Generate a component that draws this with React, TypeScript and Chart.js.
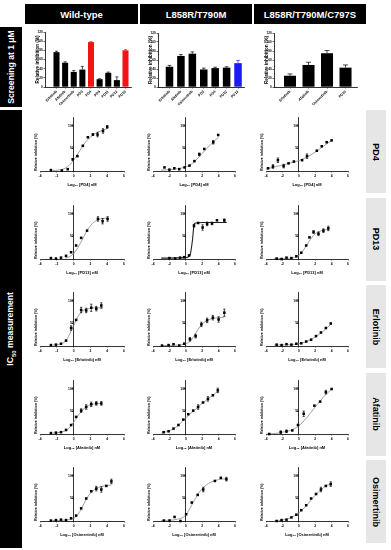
import React, { useEffect, useRef } from "react";
import { Chart, registerables } from "chart.js";

Chart.register(...registerables);

const FAMILY = "'Liberation Sans', Arial, Helvetica, sans-serif";
Chart.defaults.font.family = FAMILY;

// ---------- Screening at 1 µM (bar charts) ----------
const wtLabels = ["Erlotinib", "Afatinib", "Osimertinib", "PD3", "PD4", "PD6", "PD11", "PD12", "PD13"];
const wtValues = [76, 53, 33, 38, 98, 17, 31, 15, 80];
const wtErrors = [2, 2, 3, 7, 1, 1, 1.5, 7, 1.5];
const wtRed = ["PD4", "PD13"];

const dmLabels = ["Erlotinib", "Afatinib", "Osimertinib", "PD3", "PD4", "PD12", "PD13"];
const dmValues = [45, 69, 74, 39, 42, 43, 53];
const dmErrors = [3, 3, 4, 3, 2, 2, 6];
const dmBlue = ["PD13"];

const tmLabels = ["Erlotinib", "Afatinib", "Osimertinib", "PD13"];
const tmValues = [25, 49, 75, 43];
const tmErrors = [4, 6, 6, 6];

// ---------- IC50 measurement: points [log10 nM, % inhibition, error] and fitted curves ----------
const pd4WtPts = [[-2.7, 2], [-1.4, 1], [-0.7, 4], [-0.1, 26, 2], [0.45, 33], [1.1, 56], [1.7, 75], [2.3, 81, 2], [2.85, 81, 5], [3.5, 89, 5], [4.0, 98, 3]];
const pd4WtFit = [[-2.5, 1], [-1.5, 3], [-1, 6], [-0.5, 13], [0, 24], [0.5, 38], [1, 53], [1.5, 66], [2, 75], [2.5, 82], [3, 87], [3.5, 91], [4, 94]];
const pd4DmPts = [[-2.6, 8], [-2.0, 3], [-1.4, 6], [-0.8, 4], [-0.15, 8], [0.45, 12], [1.05, 22], [1.65, 37, 3], [2.25, 49], [3.35, 64, 4], [3.95, 80]];
const pd4DmFit = [[-3, 2], [-2, 3], [-1, 5], [0, 9], [0.5, 13], [1, 20], [1.5, 29], [2, 39], [2.5, 49], [3, 58], [3.5, 67], [4, 75]];
const pd4TmPts = [[-3.75, 6], [-3.15, 10, 4], [-2.55, 24, 5], [-1.85, 11, 4], [-1.25, 17], [-0.6, 21], [0.4, 24], [1.0, 33, 5], [2.2, 45], [2.8, 55], [3.4, 64], [4.0, 68]];
const pd4TmFit = [[-4, 4], [-3, 9], [-2, 13], [-1, 18], [0, 23], [1, 31], [2, 42], [3, 55], [4, 68]];

const pd13WtPts = [[-2.7, 2], [-2.1, 1], [-1.5, 3], [-0.9, 7], [-0.3, 15], [0.3, 30], [0.9, 47], [1.6, 63], [2.9, 89, 5], [3.45, 84, 6], [4.05, 89, 5]];
const pd13WtFit = [[-1, 2], [-0.5, 5], [0, 12], [0.5, 25], [1, 42], [1.5, 60], [2, 74], [2.5, 83], [3, 88], [3.5, 90], [4, 91]];
const pd13DmPts = [[-2.0, 2], [-1.3, 1], [-0.7, 3], [-0.2, 4], [0.4, 8], [1.0, 74, 3], [1.5, 80], [2.05, 70, 6], [2.6, 78, 4], [3.2, 79, 3], [3.8, 86], [4.7, 86, 3]];
const pd13DmFit = [[-3, 2], [0, 3], [0.5, 8], [0.8, 40], [1.0, 75], [1.2, 80], [2, 81], [3, 81], [4, 81], [5, 81]];
const pd13TmPts = [[-2.7, 1], [-2.1, 0], [-1.5, 3], [-0.9, 2], [-0.3, 6], [0.3, 14], [0.9, 30], [1.3, 48], [1.8, 60, 3], [2.4, 56, 4], [3.0, 63, 4], [3.6, 68, 5]];
const pd13TmFit = [[-3, 1], [-1, 2], [0, 8], [0.5, 18], [1, 32], [1.5, 46], [2, 56], [2.5, 61], [3, 64], [3.6, 66]];

const erlWtPts = [[-2.7, 2], [-2.1, 3], [-1.5, 5], [-0.9, 12], [-0.3, 40, 5], [0.3, 58], [0.9, 80, 6], [1.5, 79, 5], [2.1, 85, 8], [2.7, 83, 5], [3.3, 90, 6]];
const erlWtFit = [[-2.5, 2], [-1.5, 5], [-1, 10], [-0.5, 25], [0, 45], [0.5, 65], [1, 77], [1.5, 82], [2, 84], [3, 85], [3.5, 85]];
const erlDmPts = [[-2.9, 1], [-2.1, 2], [-1.5, 4], [-0.8, 1], [-0.2, 5], [0.5, 15, 4], [1.2, 22, 4], [1.9, 48, 5], [2.6, 57, 5], [3.3, 63, 5], [4.0, 59, 6], [4.7, 74, 8]];
const erlDmFit = [[-3, 1], [-1, 2], [0, 5], [0.5, 10], [1, 22], [1.5, 37], [2, 49], [2.5, 56], [3, 60], [4, 63], [4.7, 64]];
const erlTmPts = [[-2.7, 3], [-2.1, 2], [-1.5, 4], [-0.9, 3], [-0.3, 5], [0.3, 6], [0.9, 10], [1.5, 14], [2.1, 22], [2.7, 30], [3.3, 40], [3.9, 50]];
const erlTmFit = [[-3, 2], [-1, 3], [0, 5], [1, 10], [2, 20], [3, 33], [4, 50]];

const afaWtPts = [[-2.7, 2], [-2.1, 3], [-1.5, 4], [-0.9, 9], [-0.3, 20], [0.3, 38], [0.9, 52, 4], [1.5, 60, 5], [2.1, 66, 5], [2.7, 68, 4], [3.3, 68, 4]];
const afaWtFit = [[-2.5, 2], [-1.5, 4], [-1, 7], [-0.5, 14], [0, 26], [0.5, 40], [1, 52], [1.5, 60], [2, 65], [2.5, 67], [3.3, 68]];
const afaDmPts = [[-2.7, 4], [-2.1, 6], [-1.5, 12], [-0.9, 20], [-0.3, 32], [0.3, 44], [0.9, 52], [1.5, 60, 5], [2.1, 70], [2.7, 78, 5], [3.3, 86], [3.9, 97, 5]];
const afaDmFit = [[-3, 2], [-2, 7], [-1, 18], [0, 36], [1, 52], [2, 68], [3, 82], [4, 96]];
const afaTmPts = [[-3.6, 0], [-2.2, 4, 3], [-1.5, 6, 3], [-0.8, 8], [-0.1, 20], [0.6, 45, 6], [1.9, 63], [2.6, 72], [3.3, 93, 4], [4.0, 100]];
const afaTmFit = [[-4, 0], [-3, 1], [-2, 4], [-1, 8], [0, 18], [1, 37], [2, 60], [3, 82], [4, 100]];

const osiWtPts = [[-2.7, 1], [-2.1, 2], [-1.5, 3], [-0.9, 2], [-0.3, 6], [0.3, 12], [0.9, 28], [1.5, 50], [2.1, 66], [2.7, 72, 5], [3.3, 70, 6], [3.9, 78], [4.5, 88, 5]];
const osiWtFit = [[-2.5, 1], [-1, 2], [0, 6], [0.5, 14], [1, 30], [1.5, 48], [2, 62], [2.5, 70], [3, 75], [4, 79], [4.5, 80]];
const osiDmPts = [[-2.67, 1], [-1.98, 1], [-1.37, 9], [-0.65, 0], [0.04, 15], [0.73, 41], [1.45, 58], [2.13, 70, 5], [3.55, 89], [4.27, 96], [4.95, 93, 4]];
const osiDmFit = [[-3, 1], [-1, 4], [0, 13], [0.5, 28], [1, 45], [1.5, 60], [2, 72], [2.5, 80], [3, 86], [4, 92], [5, 94]];
const osiTmPts = [[-2.7, 0], [-2.1, 2], [-1.5, 3], [-0.9, 8], [-0.3, 14], [0.3, 24], [0.9, 35], [1.5, 50], [2.1, 60], [2.7, 70, 5], [3.3, 78], [3.9, 82, 5]];
const osiTmFit = [[-3, 0], [-2, 2], [-1, 7], [0, 18], [1, 36], [2, 57], [3, 74], [4, 84]];

const strains = ["Wild-type", "L858R/T790M", "L858R/T790M/C797S"];
const drugs = ["PD4", "PD13", "Erlotinib", "Afatinib", "Osimertinib"];
const icPoints = [
  [pd4WtPts, pd4DmPts, pd4TmPts],
  [pd13WtPts, pd13DmPts, pd13TmPts],
  [erlWtPts, erlDmPts, erlTmPts],
  [afaWtPts, afaDmPts, afaTmPts],
  [osiWtPts, osiDmPts, osiTmPts],
];
const icFits = [
  [pd4WtFit, pd4DmFit, pd4TmFit],
  [pd13WtFit, pd13DmFit, pd13TmFit],
  [erlWtFit, erlDmFit, erlTmFit],
  [afaWtFit, afaDmFit, afaTmFit],
  [osiWtFit, osiDmFit, osiTmFit],
];

// ---------- helpers ----------
const RED = "#f01414";
const BLUE = "#1c1cf0";
const f = (size: number) => ({ family: FAMILY, size, weight: "bold" as const });

const errorBarPlugin = {
  id: "errorBars",
  afterDatasetsDraw(chart: any) {
    const ctx = chart.ctx;
    chart.data.datasets.forEach((ds: any, di: number) => {
      if (!ds.errors) return;
      const meta = chart.getDatasetMeta(di);
      const ys = chart.scales[meta.yAxisID];
      ctx.save();
      ctx.lineWidth = 0.7;
      meta.data.forEach((el: any, i: number) => {
        const e = ds.errors[i];
        if (!e) return;
        const raw = ds.data[i];
        const v = typeof raw === "number" ? raw : raw.y;
        const x = el.x;
        const top = ys.getPixelForValue(v + e);
        const bot = ds.errorMode === "both" ? ys.getPixelForValue(v - e) : ys.getPixelForValue(v);
        const c = ds.capHalf || 1.5;
        ctx.strokeStyle = Array.isArray(ds.errorColors) ? ds.errorColors[i] : ds.errorColors || "#000";
        ctx.beginPath();
        ctx.moveTo(x, top);
        ctx.lineTo(x, bot);
        ctx.moveTo(x - c, top);
        ctx.lineTo(x + c, top);
        if (ds.errorMode === "both") {
          ctx.moveTo(x - c, bot);
          ctx.lineTo(x + c, bot);
        }
        ctx.stroke();
      });
      ctx.restore();
    });
  },
};

function barConfig(labels: string[], values: number[], errors: number[], colors: string[], xMin: number, xMax: number, barPct: number, cap: number) {
  return {
    type: "bar",
    data: {
      datasets: [
        {
          data: values.map((v, i) => ({ x: i, y: v })),
          backgroundColor: colors,
          borderWidth: 0,
          barPercentage: barPct,
          categoryPercentage: 1,
          errors,
          errorColors: colors,
          errorMode: "up",
          capHalf: cap,
        },
      ],
    },
    options: {
      animation: false,
      responsive: false,
      devicePixelRatio: 1,
      layout: { padding: { left: 2, right: 3, top: 4, bottom: 1 } },
      plugins: { legend: { display: false }, tooltip: { enabled: false } },
      scales: {
        x: {
          type: "linear",
          min: xMin,
          max: xMax,
          offset: false,
          ticks: {
            stepSize: 1,
            includeBounds: false,
            autoSkip: false,
            minRotation: 45,
            maxRotation: 45,
            font: f(3.6),
            color: "#000",
            padding: 1,
            callback: (v: number) => (labels[v] === undefined ? null : labels[v]),
          },
          grid: { drawOnChartArea: false, tickLength: 1.5, color: "#000", lineWidth: 0.6, offset: false },
          border: { color: "#000", width: 0.8 },
          afterFit: (s: any) => {
            s.height = 20;
          },
        },
        y: {
          min: 0,
          max: 120,
          ticks: { stepSize: 20, font: f(3.1), color: "#000", padding: 0.8 },
          grid: { drawOnChartArea: false, tickLength: 1.5, color: "#000", lineWidth: 0.6 },
          border: { color: "#000", width: 0.8 },
          title: { display: true, text: "Relative inhibition (%)", font: f(4.6), color: "#000", padding: 0 },
          afterFit: (s: any) => {
            s.width = 10;
          },
        },
      },
    },
    plugins: [errorBarPlugin],
  };
}

function icConfig(points: number[][], fit: number[][], drug: string, dark: boolean) {
  return {
    type: "scatter",
    data: {
      datasets: [
        {
          type: "line",
          data: fit.map((p) => ({ x: p[0], y: p[1] })),
          borderColor: dark ? "#222" : "#8a8a8a",
          borderWidth: dark ? 1.1 : 0.8,
          pointRadius: 0,
          cubicInterpolationMode: "monotone",
          fill: false,
          clip: false,
          xAxisID: "x",
          yAxisID: "y",
          order: 2,
        },
        {
          type: "scatter",
          data: points.map((p) => ({ x: p[0], y: p[1] })),
          pointStyle: "rect",
          pointRadius: 1.8,
          backgroundColor: "#000",
          borderColor: "#000",
          borderWidth: 0,
          errors: points.map((p) => p[2] || 0),
          errorMode: "both",
          errorColors: "#000",
          capHalf: 1.1,
          clip: false,
          xAxisID: "x",
          yAxisID: "y",
          order: 1,
        },
      ],
    },
    options: {
      animation: false,
      responsive: false,
      devicePixelRatio: 1,
      layout: { padding: { left: 8, right: 4, top: 5, bottom: 2 } },
      plugins: { legend: { display: false }, tooltip: { enabled: false } },
      scales: {
        x: {
          type: "linear",
          position: "bottom",
          min: -4,
          max: 6,
          ticks: { stepSize: 2, includeBounds: false, maxRotation: 0, font: f(3.3), color: "#000", padding: 1.5 },
          grid: { drawOnChartArea: false, tickLength: 1.5, color: "#000", lineWidth: 0.6 },
          border: { color: "#000", width: 0.8 },
          title: { display: true, text: "Log\u2081\u2080 [" + drug + "] nM", font: f(4), color: "#000", padding: 0 },
          afterFit: (s: any) => {
            s.height = 16;
          },
        },
        y: {
          type: "linear",
          position: { x: 0 },
          min: 0,
          max: 120,
          ticks: {
            stepSize: 50,
            includeBounds: false,
            font: f(3.3),
            color: "#000",
            padding: 1,
            callback: (v: number) => (v === 0 ? null : String(v)),
          },
          grid: { drawOnChartArea: false, tickLength: 1.5, color: "#000", lineWidth: 0.6 },
          border: { color: "#000", width: 0.8 },
        },
        yT: {
          type: "linear",
          position: "left",
          min: 0,
          max: 120,
          ticks: { display: false },
          grid: { display: false, drawTicks: false },
          border: { display: false },
          title: { display: true, text: "Relative inhibition (%)", font: f(3.6), color: "#000", padding: 0, align: "start" },
          afterFit: (s: any) => {
            s.width = 6;
          },
        },
      },
    },
    plugins: [errorBarPlugin],
  };
}

function ChartCanvas({ x, y, w, h, make }: { x: number; y: number; w: number; h: number; make: () => any }) {
  const ref = useRef<HTMLCanvasElement>(null);
  useEffect(() => {
    const chart = new Chart(ref.current as HTMLCanvasElement, make());
    return () => chart.destroy();
  }, []);
  return (
    <canvas
      ref={ref}
      width={w}
      height={h}
      style={{ position: "absolute", left: x, top: y, width: w, height: h }}
    />
  );
}

const boxText: React.CSSProperties = {
  position: "absolute",
  display: "flex",
  alignItems: "center",
  justifyContent: "center",
  fontFamily: FAMILY,
  fontWeight: "bold",
  whiteSpace: "nowrap",
};

export default function App() {
  const headerX = [25, 140, 254];
  const headerW = [113, 112, 112];
  const icX0 = [40, 153, 266];
  const icW = [84, 82, 82];
  const rowY0 = (r: number) => 171 + 87.5 * r;

  const wtColors = wtLabels.map((l) => (wtRed.includes(l) ? RED : "#000"));
  const dmColors = dmLabels.map((l) => (dmBlue.includes(l) ? BLUE : "#000"));
  const tmColors = tmLabels.map(() => "#000");

  return (
    <div style={{ position: "absolute", left: 0, top: 0, width: 391, height: 550, background: "#fff", overflow: "hidden" }}>
      {strains.map((s, i) => (
        <div
          key={s}
          style={{ ...boxText, left: headerX[i], top: 4, width: headerW[i], height: 20, background: "#000", color: "#fff", fontSize: 9.5 }}
        >
          {s}
        </div>
      ))}
      <div style={{ ...boxText, left: 0, top: 27, width: 22, height: 80, background: "#000", color: "#fff", fontSize: 8.6 }}>
        <span style={{ transform: "rotate(-90deg)", display: "inline-block" }}>Screening at 1 μM</span>
      </div>
      <div style={{ ...boxText, left: 0, top: 110, width: 22, height: 438, background: "#000", color: "#fff", fontSize: 8.6 }}>
        <span style={{ transform: "rotate(-90deg)", display: "inline-block" }}>
          IC<sub style={{ fontSize: 6 }}>50</sub> measurement
        </span>
      </div>
      {drugs.map((d, r) => (
        <div
          key={d}
          style={{ ...boxText, left: 366, top: rowY0(r) - 61, width: 20, height: 83, background: "#e6e6e6", color: "#000", fontSize: 9 }}
        >
          <span style={{ transform: "rotate(90deg)", display: "inline-block" }}>{d}</span>
        </div>
      ))}

      <ChartCanvas x={33} y={28} w={101} h={80} make={() => barConfig(wtLabels, wtValues, wtErrors, wtColors, -1.333, 8.638, 0.7, 1.5)} />
      <ChartCanvas x={146} y={29} w={101} h={79} make={() => barConfig(dmLabels, dmValues, dmErrors, dmColors, -1.007, 6.524, 0.66, 1.8)} />
      <ChartCanvas x={262} y={29} w={98} h={79} make={() => barConfig(tmLabels, tmValues, tmErrors, tmColors, -0.865, 3.62, 0.65, 2.5)} />

      {drugs.map((d, r) =>
        strains.map((s, c) => (
          <ChartCanvas
            key={d + s}
            x={icX0[c] - 14}
            y={rowY0(r) - 59}
            w={14 + icW[c] + 4}
            h={77}
            make={() => icConfig(icPoints[r][c], icFits[r][c], d, r === 1 && c === 1)}
          />
        ))
      )}
    </div>
  );
}
